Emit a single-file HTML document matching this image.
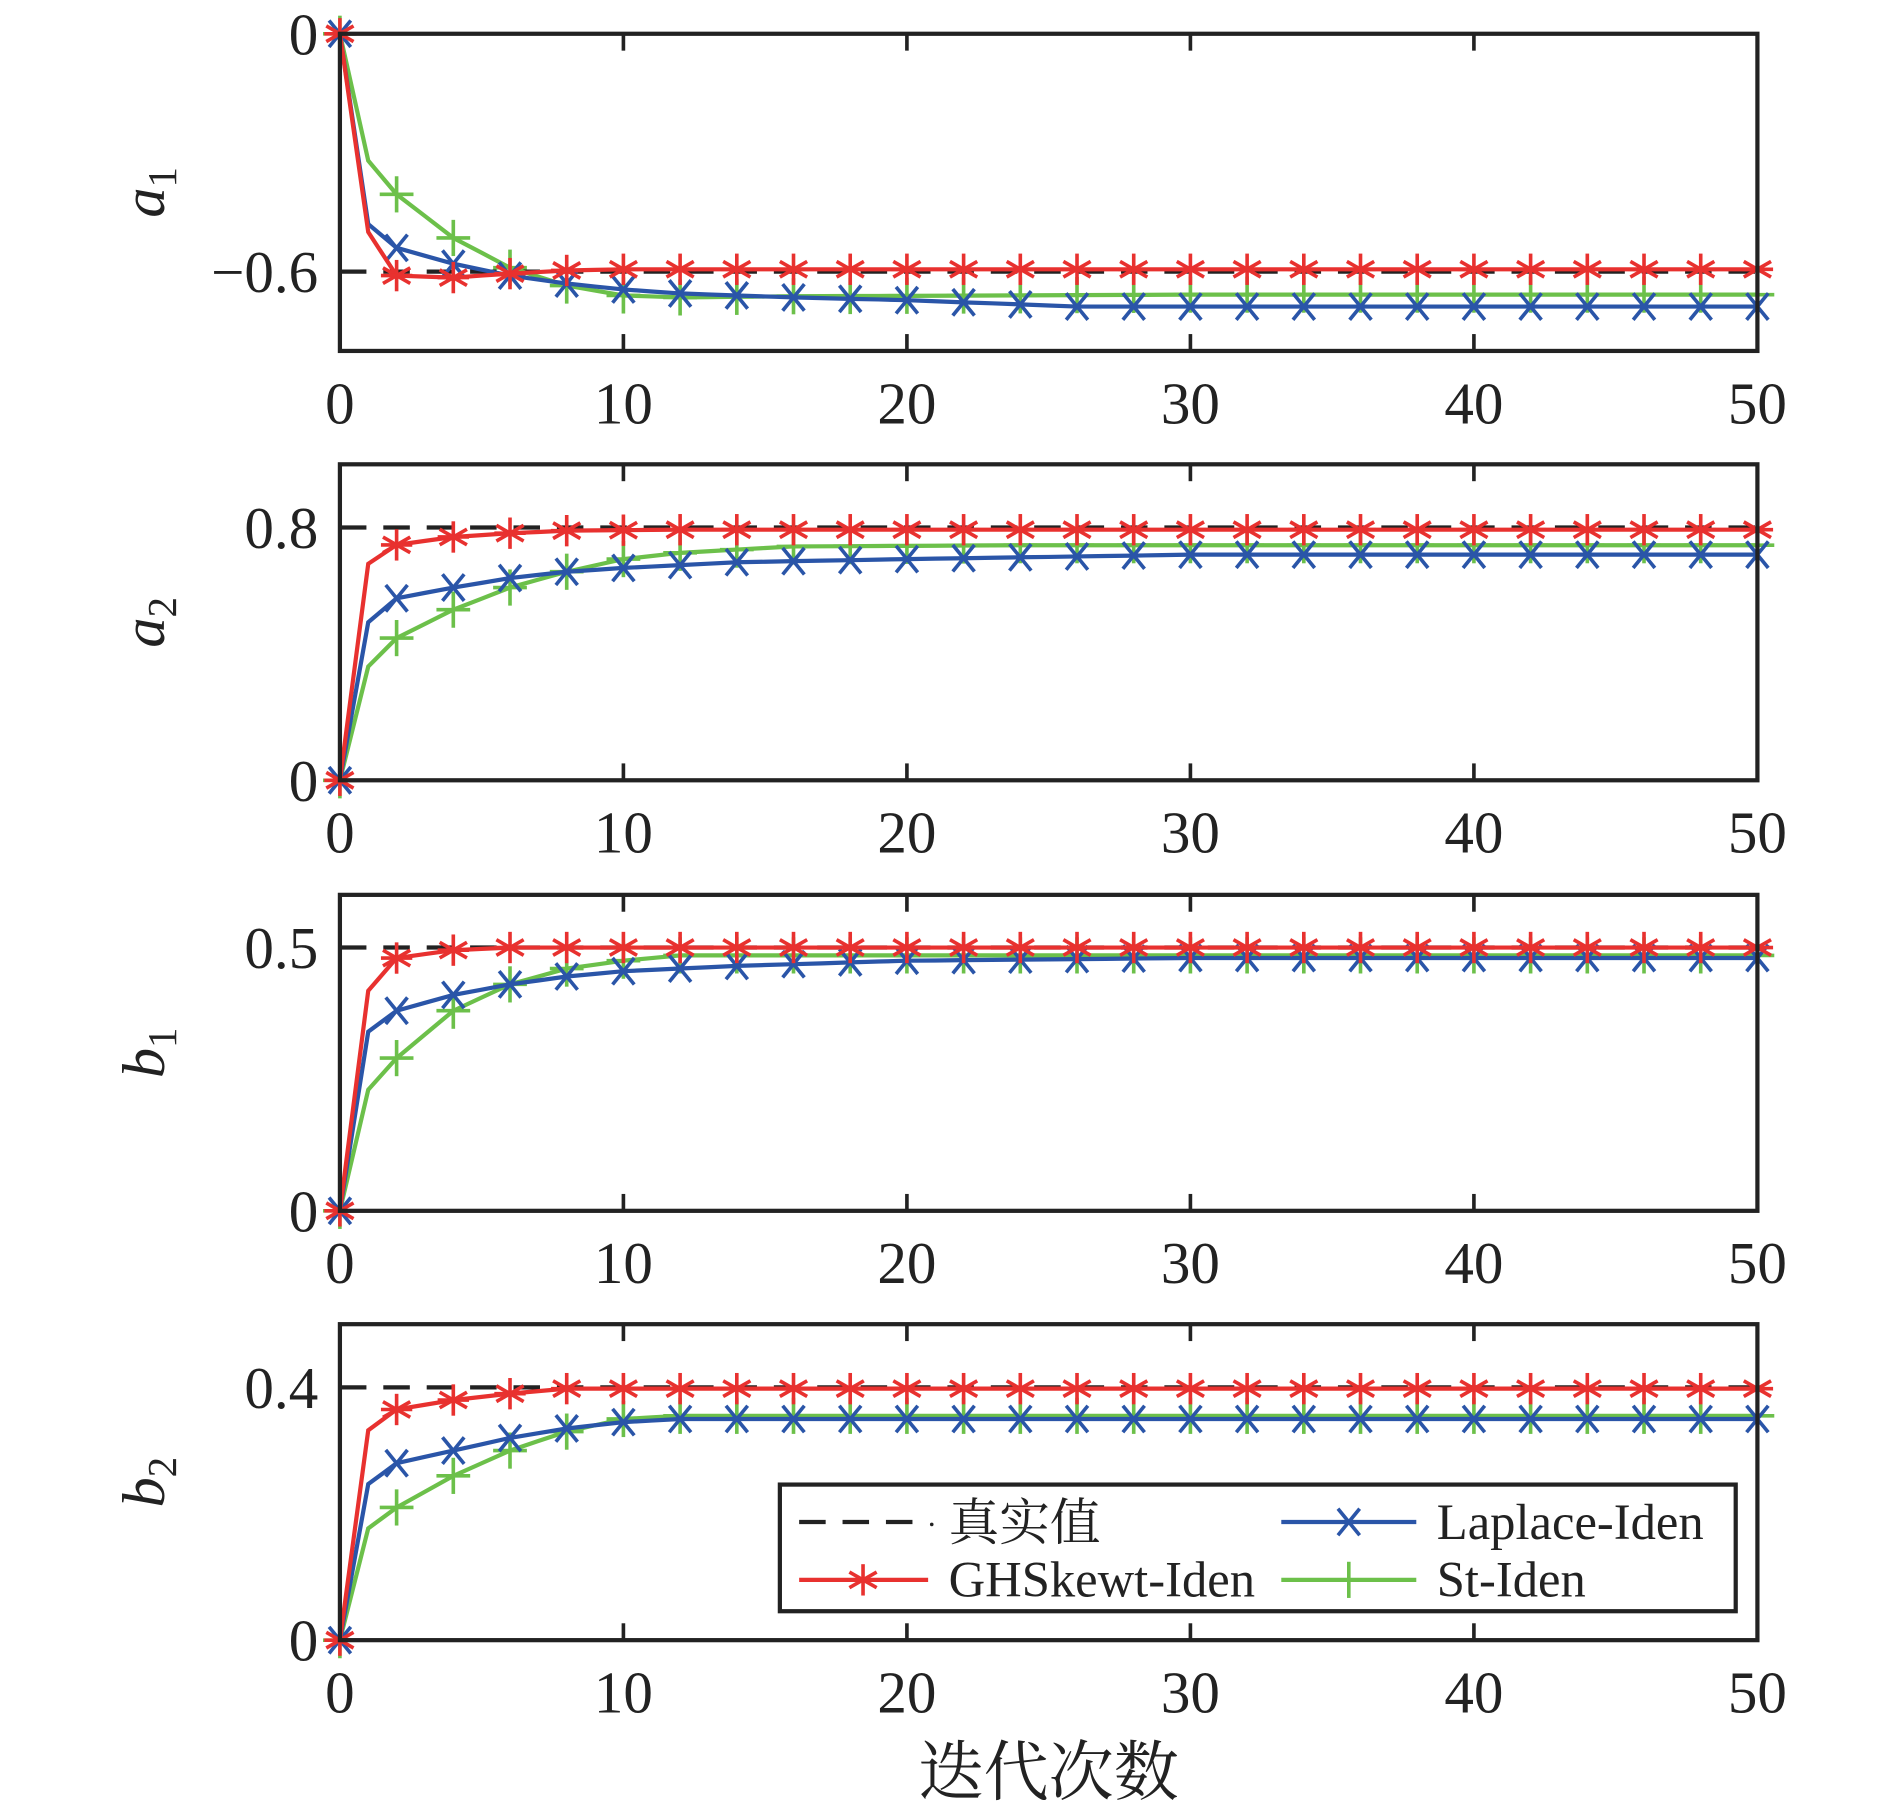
<!DOCTYPE html>
<html><head><meta charset="utf-8"><style>
html,body{margin:0;padding:0;background:#fff;}
svg{display:block;}
text{font-family:"Liberation Serif","Noto Serif CJK SC",serif;fill:#222;}
</style></head><body>
<svg id="s" width="1890" height="1809" viewBox="0 0 1568 1500" preserveAspectRatio="none" xmlns="http://www.w3.org/2000/svg">
<text x="870" y="1488" font-size="54" text-anchor="middle">迭代次数</text>
<g>
<rect x="647" y="1231" width="793" height="105" fill="#fff" stroke="#222" stroke-width="3.5"/>
<line x1="663" y1="1262" x2="770" y2="1262" stroke="#222" stroke-width="3.5" stroke-dasharray="22,14"/>
<text x="787" y="1277" font-size="42">真实值</text>
<line x1="663" y1="1310" x2="770" y2="1310" stroke="#e8312f" stroke-width="3.5"/>
<text x="787" y="1324" font-size="42">GHSkewt-Iden</text>
<line x1="1063" y1="1262" x2="1175" y2="1262" stroke="#2a55a8" stroke-width="3.5"/>
<text x="1192" y="1276" font-size="42">Laplace-Iden</text>
<line x1="1063" y1="1310" x2="1175" y2="1310" stroke="#6cc04a" stroke-width="3.5"/>
<text x="1192" y="1324" font-size="42">St-Iden</text>
<g id="legm"></g>
</g>
</svg>
<script>
var S=document.getElementById('s'),NS='http://www.w3.org/2000/svg';
function el(t,a,p){var e=document.createElementNS(NS,t);for(var k in a)e.setAttribute(k,a[k]);(p||S).appendChild(e);return e;}
var R='#e8312f',B='#2a55a8',G='#6cc04a';
function interp(kp,x){var ks=Object.keys(kp).map(Number).sort(function(a,b){return a-b});
 if(x>=ks[ks.length-1])return kp[ks[ks.length-1]];
 for(var i=0;i<ks.length-1;i++){if(x>=ks[i]&&x<=ks[i+1]){var t=(x-ks[i])/(ks[i+1]-ks[i]);return kp[ks[i]]+t*(kp[ks[i+1]]-kp[ks[i]]);}}}
function marker(type,cx,cy,col,g){var s=13;
 if(type=='*'){[[0,-s,0,s],[-s*0.87,-s*0.5,s*0.87,s*0.5],[-s*0.87,s*0.5,s*0.87,-s*0.5],[-s,0,s,0]].forEach(function(l){el('line',{x1:cx+l[0],y1:cy+l[1],x2:cx+l[2],y2:cy+l[3],stroke:col,'stroke-width':3},g);});}
 else if(type=='x'){el('line',{x1:cx-9,y1:cy-11,x2:cx+9,y2:cy+11,stroke:col,'stroke-width':3},g);el('line',{x1:cx-9,y1:cy+11,x2:cx+9,y2:cy-11,stroke:col,'stroke-width':3},g);}
 else {el('line',{x1:cx,y1:cy-15,x2:cx,y2:cy+15,stroke:col,'stroke-width':3},g);el('line',{x1:cx-14,y1:cy,x2:cx+14,y2:cy,stroke:col,'stroke-width':3},g);}}
var X0=282,X1=1458;function px(x){return X0+x*(X1-X0)/50;}
var plots=[
 {top:28,bot:291,ymin:-0.8,ymax:0,ticks:[[0,'0'],[-0.6,'\u22120.6']],truth:-0.6,lab:'a',sub:'1',
  r:{0:0,1:-0.5,2:-0.61,4:-0.615,6:-0.605,8:-0.597,10:-0.594},
  b:{0:0,1:-0.48,2:-0.54,4:-0.58,6:-0.61,8:-0.63,10:-0.645,12:-0.655,16:-0.665,20:-0.672,26:-0.688},
  g:{0:0,1:-0.32,2:-0.405,4:-0.515,6:-0.59,8:-0.635,10:-0.66,12:-0.665,16:-0.662,30:-0.658}},
 {top:385,bot:647,ymin:0,ymax:1,ticks:[[0,'0'],[0.8,'0.8']],truth:0.8,lab:'a',sub:'2',
  r:{0:0,1:0.685,2:0.745,4:0.77,6:0.782,8:0.79,12:0.793},
  b:{0:0,1:0.5,2:0.576,4:0.61,6:0.64,8:0.66,10:0.672,14:0.69,20:0.70,30:0.714},
  g:{0:0,1:0.36,2:0.45,4:0.54,6:0.61,8:0.66,10:0.70,12:0.72,16:0.74,24:0.744}},
 {top:742,bot:1004,ymin:0,ymax:0.6,ticks:[[0,'0'],[0.5,'0.5']],truth:0.5,lab:'b',sub:'1',
  r:{0:0,1:0.418,2:0.48,4:0.495,6:0.5},
  b:{0:0,1:0.34,2:0.38,4:0.41,6:0.43,8:0.445,10:0.455,14:0.465,20:0.475,30:0.48},
  g:{0:0,1:0.23,2:0.29,4:0.38,6:0.43,8:0.46,10:0.475,12:0.485}},
 {top:1098,bot:1360,ymin:0,ymax:0.5,ticks:[[0,'0'],[0.4,'0.4']],truth:0.4,lab:'b',sub:'2',
  r:{0:0,1:0.332,2:0.365,4:0.38,6:0.39,8:0.398},
  b:{0:0,1:0.247,2:0.28,4:0.30,6:0.32,8:0.335,10:0.345,12:0.35},
  g:{0:0,1:0.177,2:0.21,4:0.26,6:0.30,8:0.33,10:0.35,12:0.355}}];
plots.forEach(function(p){
 function py(v){return p.bot-(v-p.ymin)*(p.bot-p.top)/(p.ymax-p.ymin);}
 var g=el('g',{});
 for(var t=10;t<=40;t+=10){el('line',{x1:px(t),y1:p.top,x2:px(t),y2:p.top+14,stroke:'#222','stroke-width':3},g);el('line',{x1:px(t),y1:p.bot,x2:px(t),y2:p.bot-14,stroke:'#222','stroke-width':3},g);}
 for(var t=0;t<=50;t+=10){var tx=el('text',{x:px(t),y:p.bot+60,'font-size':49,'text-anchor':'middle'},g);tx.textContent=t;}
 p.ticks.forEach(function(tk){var tx=el('text',{x:264,y:py(tk[0])+17,'font-size':49,'text-anchor':'end'},g);tx.textContent=tk[1];});
 var yl=el('text',{transform:'translate(136,'+((p.top+p.bot)/2)+') rotate(-90)','font-size':50,'font-style':'italic','text-anchor':'middle'},g);
 yl.textContent=p.lab;var ts=el('tspan',{'font-size':34,'font-style':'normal',dy:10},yl);ts.textContent=p.sub;
 el('line',{x1:X0,y1:py(p.truth),x2:X1,y2:py(p.truth),stroke:'#222','stroke-width':3.5,'stroke-dasharray':'22,14'},g);
 [['g',G,'+'],['b',B,'x'],['r',R,'*']].forEach(function(s){
  var pts=[];for(var x=0;x<=50;x++)pts.push(px(x).toFixed(1)+','+py(interp(p[s[0]],x)).toFixed(1));
  el('polyline',{points:pts.join(' '),fill:'none',stroke:s[1],'stroke-width':3.5},g);
  for(var x=0;x<=50;x+=2)marker(s[2],px(x),py(interp(p[s[0]],x)),s[1],g);
 });
 el('rect',{x:X0,y:p.top,width:X1-X0,height:p.bot-p.top,fill:'none',stroke:'#222','stroke-width':3.5},g);
});
var lg=S.querySelector('g:not([id])');S.appendChild(lg);
var lm=document.getElementById('legm');
marker('*',716,1310,R,lm);marker('x',1119,1262,B,lm);marker('+',1119,1310,G,lm);
el('circle',{cx:773,cy:1264,r:1.5,fill:'#222'},lm);
</script>
</body></html>
